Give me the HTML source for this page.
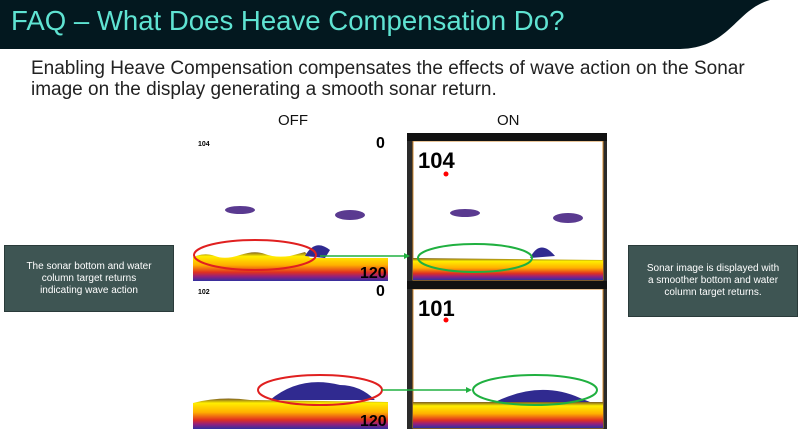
<!DOCTYPE html>
<html><head><meta charset="utf-8"><style>
body{margin:0;width:800px;height:429px;overflow:hidden;background:#fff;font-family:"Liberation Sans",sans-serif;position:relative}
.hdr{position:absolute;left:0;top:0}
.t{position:absolute;left:11px;top:5px;color:#5fe3d2;font-size:28px;white-space:nowrap;transform:scaleX(0.985);transform-origin:0 0}
.sub{position:absolute;left:31px;top:58px;font-size:19px;color:#222;line-height:21px;white-space:nowrap}
.lab{position:absolute;font-size:15px;color:#111}
.box{position:absolute;background:#3e5553;color:#fff;font-size:10px;text-align:center;line-height:12px;display:flex;align-items:center;justify-content:center;border:1px solid #2a3b3a}
</style></head><body>
<svg class="hdr" width="800" height="60"><path d="M0 0H770C735 10 730 48 680 49H0Z" fill="#03181f"/></svg>
<div class="t">FAQ – What Does Heave Compensation Do?</div>
<div class="sub">Enabling Heave Compensation compensates the effects of wave action on the Sonar<br>image on the display generating a smooth sonar return.</div>
<div class="lab" style="left:278px;top:112px">OFF</div>
<div class="lab" style="left:497px;top:112px">ON</div>
<svg style="position:absolute;left:0;top:0" width="800" height="429">
<defs><linearGradient id="g" x1="0" y1="0" x2="0" y2="1">
<stop offset="0" stop-color="#7a5a20"/><stop offset=".15" stop-color="#ffee00"/><stop offset=".45" stop-color="#ffb000"/><stop offset=".7" stop-color="#e03020"/><stop offset=".85" stop-color="#902080"/><stop offset="1" stop-color="#3030a0"/></linearGradient></defs>
<rect x="193" y="133" width="195" height="148" fill="#fff"/>
<rect x="407" y="133" width="200" height="296" fill="#2a2a2a"/>
<rect x="413" y="141" width="190" height="139" fill="#fff" stroke="#d08a30"/>
<rect x="413" y="289" width="190" height="139" fill="#fff" stroke="#d08a30"/>
<rect x="407" y="133" width="200" height="8" fill="#111"/>
<rect x="407" y="281" width="200" height="8" fill="#111"/>
<path d="M193 257 Q205 252 215 256 T240 255 T265 254 T290 256 L305 252 L310 258 L388 258 V281 H193Z" fill="url(#g)"/>
<path d="M305 256 Q315 238 330 250 L325 258Z" fill="#302a90"/>
<path d="M413 258 L603 260 V280 H413Z" fill="url(#g)"/>
<path d="M530 258 Q540 238 555 256Z" fill="#302a90"/>
<path d="M193 403 Q220 396 250 400 L388 402 V429 H193Z" fill="url(#g)"/>
<path d="M270 400 Q300 375 340 385 Q360 385 375 400Z" fill="#302a90"/>
<path d="M413 402 L603 402 V428 H413Z" fill="url(#g)"/>
<path d="M495 402 Q540 380 580 398 L590 402Z" fill="#302a90"/>
<ellipse cx="240" cy="210" rx="15" ry="4" fill="#5a3a90"/>
<ellipse cx="350" cy="215" rx="15" ry="5" fill="#5a3a90"/>
<ellipse cx="465" cy="213" rx="15" ry="4" fill="#5a3a90"/>
<ellipse cx="568" cy="218" rx="15" ry="5" fill="#5a3a90"/>
<text x="360" y="278" font-size="16" font-weight="bold">120</text>
<text x="360" y="426" font-size="16" font-weight="bold">120</text>
<text x="376" y="148" font-size="16" font-weight="bold">0</text>
<text x="376" y="296" font-size="16" font-weight="bold">0</text>
<text x="198" y="146" font-size="7" font-weight="bold">104</text>
<text x="198" y="294" font-size="7" font-weight="bold">102</text>
<text x="418" y="168" font-size="22" font-weight="bold">104</text>
<text x="418" y="316" font-size="22" font-weight="bold">101</text>
<circle cx="446" cy="174" r="2.5" fill="red"/><circle cx="446" cy="320" r="2.5" fill="red"/>
<ellipse cx="255" cy="255" rx="61" ry="15" fill="none" stroke="#e02020" stroke-width="2"/>
<ellipse cx="475" cy="258" rx="57" ry="14" fill="none" stroke="#20b040" stroke-width="2"/>
<ellipse cx="320" cy="390" rx="62" ry="15" fill="none" stroke="#e02020" stroke-width="2"/>
<ellipse cx="535" cy="390" rx="62" ry="15" fill="none" stroke="#20b040" stroke-width="2"/>
<line x1="320" y1="256" x2="404" y2="256" stroke="#20b040" stroke-width="1.5"/><path d="M404 253 L410 256 L404 259Z" fill="#20b040"/>
<line x1="382" y1="390" x2="466" y2="390" stroke="#20b040" stroke-width="1.5"/><path d="M466 387 L472 390 L466 393Z" fill="#20b040"/>
</svg>
<div class="box" style="left:4px;top:245px;width:168px;height:65px">The sonar bottom and water<br>column target returns<br>indicating wave action</div>
<div class="box" style="left:628px;top:245px;width:168px;height:70px">Sonar image is displayed with<br>a smoother bottom and water<br>column target returns.</div>
</body></html>
